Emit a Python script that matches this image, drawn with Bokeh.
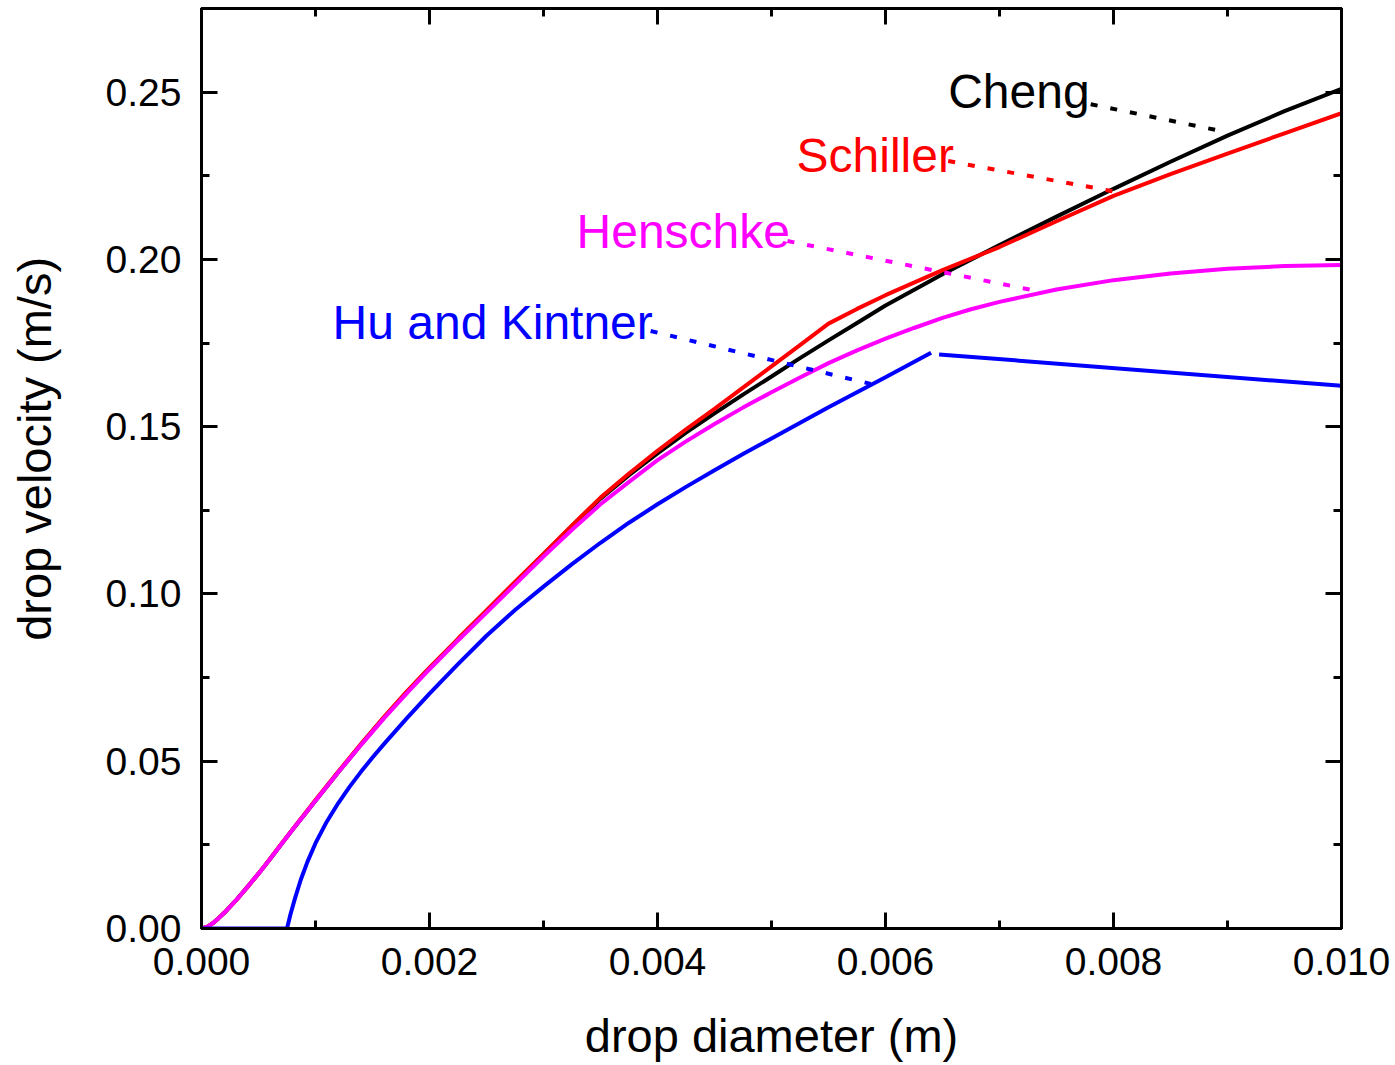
from bokeh.plotting import figure
from bokeh.models import LinearAxis, SingleIntervalTicker, PrintfTickFormatter, Range1d
from bokeh.core.properties import value
from bokeh.embed import file_html
from bokeh.resources import INLINE

# ---------------- data ----------------
d_cheng = [0, 0.00005, 0.0001, 0.00015, 0.0002, 0.0003, 0.0004, 0.0005, 0.0006, 0.0007,
           0.0008, 0.001, 0.0012, 0.0014, 0.0016, 0.0018, 0.002, 0.00225, 0.0025, 0.00275,
           0.003, 0.00325, 0.0035, 0.00375, 0.004, 0.00425, 0.0045, 0.00475, 0.005, 0.00525,
           0.0055, 0.00575, 0.006, 0.0065, 0.007, 0.0075, 0.008, 0.0085, 0.009, 0.0095, 0.010]
v_cheng = [0, 0.0005, 0.0016, 0.0031, 0.0047, 0.0083, 0.0123, 0.0164, 0.0207, 0.0252,
           0.0296, 0.0382, 0.0467, 0.0550, 0.0630, 0.0706, 0.0778, 0.0864, 0.0949, 0.1034,
           0.1118, 0.1203, 0.1285, 0.1355, 0.1420, 0.1482, 0.1540, 0.1596, 0.1650, 0.1705,
           0.1758, 0.1810, 0.1862, 0.1956, 0.2043, 0.2128, 0.2211, 0.2292, 0.2370, 0.2443, 0.2510]

d_schiller = [0, 0.00005, 0.0001, 0.00015, 0.0002, 0.0003, 0.0004, 0.0005, 0.0006, 0.0007,
              0.0008, 0.001, 0.0012, 0.0014, 0.0016, 0.0018, 0.002, 0.00225, 0.0025, 0.00275,
              0.003, 0.00325, 0.0035, 0.00375, 0.004, 0.00425, 0.0045, 0.00475, 0.005, 0.00525,
              0.0055, 0.00575, 0.006, 0.0065, 0.007, 0.0075, 0.008, 0.0085, 0.009, 0.0095, 0.010]
v_schiller = [0, 0.0005, 0.0016, 0.0031, 0.0047, 0.0083, 0.0123, 0.0164, 0.0208, 0.0253,
              0.0297, 0.0384, 0.0469, 0.0552, 0.0632, 0.0708, 0.0780, 0.0866, 0.0951, 0.1036,
              0.1120, 0.1205, 0.1288, 0.1360, 0.1428, 0.1492, 0.1553, 0.1617, 0.1680, 0.1744,
              0.1808, 0.1852, 0.1893, 0.1968, 0.2037, 0.2114, 0.2190, 0.2255, 0.2316, 0.2377, 0.2437]

d_henschke = [0, 0.00005, 0.0001, 0.00015, 0.0002, 0.0003, 0.0004, 0.0005, 0.0006, 0.0007,
              0.0008, 0.001, 0.0012, 0.0014, 0.0016, 0.0018, 0.002, 0.00225, 0.0025, 0.00275,
              0.003, 0.00325, 0.0035, 0.00375, 0.004, 0.00425, 0.0045, 0.00475, 0.005, 0.00525,
              0.0055, 0.00575, 0.006, 0.00625, 0.0065, 0.00675, 0.007, 0.0075, 0.008, 0.0085,
              0.009, 0.0095, 0.010]
v_henschke = [0, 0.0005, 0.0016, 0.0031, 0.0047, 0.0083, 0.0123, 0.0164, 0.0207, 0.0252,
              0.0296, 0.0382, 0.0467, 0.0549, 0.0628, 0.0703, 0.0775, 0.0861, 0.0944, 0.1028,
              0.1112, 0.1192, 0.1268, 0.1335, 0.1400, 0.1456, 0.1508, 0.1557, 0.1603, 0.1647,
              0.1690, 0.1728, 0.1763, 0.1795, 0.1825, 0.1851, 0.1873, 0.1910, 0.1938, 0.1958,
              0.1972, 0.1980, 0.1983]

d_hu = [0, 0.00075, 0.00078, 0.00082, 0.00087, 0.00093, 0.001, 0.0011, 0.0012, 0.0013,
        0.0014, 0.0015, 0.0016, 0.0018, 0.002, 0.00225, 0.0025, 0.00275, 0.003, 0.00325,
        0.0035, 0.00375, 0.004, 0.00425, 0.0045, 0.00475, 0.005, 0.0055, 0.006, 0.0064,
        float("nan"), 0.00647, 0.010]
v_hu = [0, 0, 0.0042, 0.0090, 0.0145, 0.0200, 0.0255, 0.0320, 0.0375, 0.0424,
        0.0469, 0.0511, 0.0551, 0.0628, 0.0702, 0.0790, 0.0875, 0.0952, 0.1022, 0.1089,
        0.1153, 0.1213, 0.1268, 0.1320, 0.1370, 0.1418, 0.1465, 0.1558, 0.1648, 0.1721,
        float("nan"), 0.1716, 0.1622]

series_names = ["Cheng", "Schiller", "Henschke", "Hu and Kintner"]
series_colors = ["#000000", "#FF0000", "#FF00FF", "#0000FF"]

# label annotations (data units)
label_x = [0.00655, 0.00522, 0.00329, 0.00115]
label_y = [0.2503, 0.2312, 0.2082, 0.1810]
lead_x0 = [0.00780, 0.00655, 0.00514, 0.00394]
lead_y0 = [0.2464, 0.2294, 0.2055, 0.1786]
lead_x1 = [0.00894, 0.00799, 0.00732, 0.00587]
lead_y1 = [0.2384, 0.2204, 0.1906, 0.1628]

x_label = "drop diameter (m)"
y_label = "drop velocity (m/s)"

FONT = "Liberation Sans"

# ---------------- figure ----------------
p = figure(width=1390, height=1065, output_backend="svg", toolbar_location=None,
           x_range=Range1d(0, 0.010), y_range=Range1d(0, 0.275),
           min_border_left=201, min_border_right=49, min_border_top=8, min_border_bottom=137)
p.grid.visible = False
p.outline_line_color = "black"
p.outline_line_width = 3
p.background_fill_color = "white"
p.border_fill_color = "white"


def style_axis(ax, show_labels):
    ax.axis_line_width = 3
    ax.axis_line_color = "black"
    ax.major_tick_in = 16
    ax.major_tick_out = 0
    ax.minor_tick_in = 8
    ax.minor_tick_out = 0
    ax.major_tick_line_width = 3
    ax.minor_tick_line_width = 3
    ax.major_tick_line_color = "black"
    ax.minor_tick_line_color = "black"
    if show_labels:
        ax.major_label_text_font = FONT
        ax.major_label_text_font_size = "39px"
        ax.major_label_text_color = "black"
        ax.axis_label_text_font = FONT
        ax.axis_label_text_font_size = "47px"
        ax.axis_label_text_font_style = "normal"
        ax.axis_label_text_color = "black"
    else:
        ax.major_label_text_font_size = "1px"
        ax.major_label_text_color = None
        ax.major_label_text_alpha = 0
        ax.major_label_standoff = 0


xa = p.xaxis[0]
xa.ticker = SingleIntervalTicker(interval=0.002, num_minor_ticks=2)
xa.formatter = PrintfTickFormatter(format="%.3f")
xa.axis_label = x_label
style_axis(xa, True)
xa.major_label_standoff = 19
xa.axis_label_standoff = 31

ya = p.yaxis[0]
ya.ticker = SingleIntervalTicker(interval=0.05, num_minor_ticks=2)
ya.formatter = PrintfTickFormatter(format="%.2f")
# leading no-break spaces lift the title slightly above the frame centre, as in the original
ya.axis_label = "\u00a0\u00a0\u00a0" + y_label
style_axis(ya, True)
ya.major_label_standoff = 20
ya.axis_label_standoff = 42

top = LinearAxis(ticker=SingleIntervalTicker(interval=0.002, num_minor_ticks=2))
style_axis(top, False)
p.add_layout(top, "above")
right = LinearAxis(ticker=SingleIntervalTicker(interval=0.05, num_minor_ticks=2))
style_axis(right, False)
p.add_layout(right, "right")

# curves
p.line(d_cheng, v_cheng, line_color=series_colors[0], line_width=4)
p.line(d_schiller, v_schiller, line_color=series_colors[1], line_width=4)
p.line(d_henschke, v_henschke, line_color=series_colors[2], line_width=4)
p.line(d_hu, v_hu, line_color=series_colors[3], line_width=4)

# leader lines
p.segment(x0=lead_x0, y0=lead_y0, x1=lead_x1, y1=lead_y1,
          line_color=series_colors, line_width=4, line_dash="7 13")

# labels
p.text(x=label_x, y=label_y, text=series_names, text_color=series_colors,
       text_font=value(FONT), text_font_size="48px",
       text_align="left", text_baseline="alphabetic")

open("out.html", "w").write(file_html(p, INLINE))
